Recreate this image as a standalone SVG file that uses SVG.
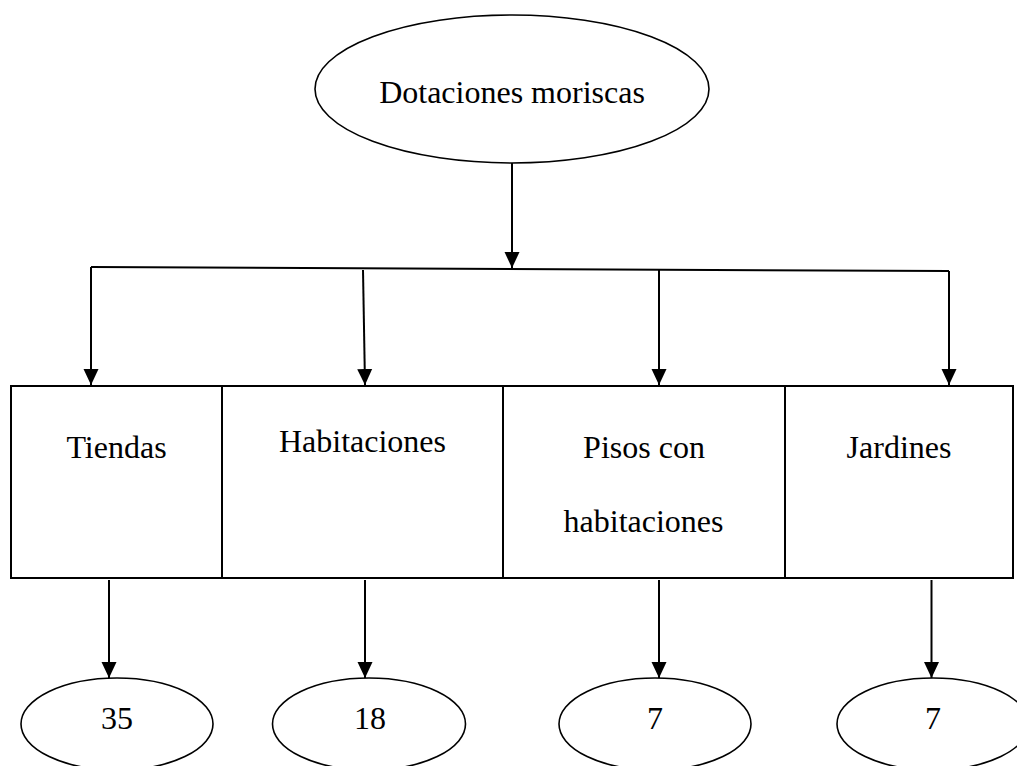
<svg xmlns="http://www.w3.org/2000/svg" width="1017" height="766" viewBox="0 0 1017 766">
<style>
.shape{fill:#fff;stroke:#000;stroke-width:1.6}
.box{fill:#fff;stroke:#000;stroke-width:2}
.conn{fill:none;stroke:#000;stroke-width:2}
text{font-family:"Liberation Serif","Times New Roman",serif;font-size:32px;fill:#000;text-anchor:middle}
</style>
<defs>
<marker id="arr" markerUnits="userSpaceOnUse" markerWidth="16" markerHeight="16" refX="16" refY="7.5" orient="auto" viewBox="0 0 16 15">
<path d="M0,0 L16,7.5 L0,15 z" fill="#000"/>
</marker>
</defs>
<g id="root">
<ellipse class="shape" cx="512" cy="89" rx="197" ry="74"/>
<text x="512" y="103">Dotaciones moriscas</text>
</g>
<g id="tiendas">
<rect class="box" x="11" y="386" width="211" height="192"/>
<text x="116.5" y="458">Tiendas</text>
</g>
<g id="habitaciones">
<rect class="box" x="222" y="386" width="281" height="192"/>
<text x="362.5" y="452">Habitaciones</text>
</g>
<g id="pisos">
<rect class="box" x="503" y="386" width="282" height="192"/>
<text x="644" y="458">Pisos con</text>
<text x="643.5" y="532">habitaciones</text>
</g>
<g id="jardines">
<rect class="box" x="785" y="386" width="228" height="192"/>
<text x="899" y="458">Jardines</text>
</g>
<g id="n35">
<ellipse class="shape" cx="117" cy="724" rx="96" ry="46"/>
<text x="117" y="729">35</text>
</g>
<g id="n18">
<ellipse class="shape" cx="369" cy="724" rx="96.5" ry="46"/>
<text x="370" y="729">18</text>
</g>
<g id="n7a">
<ellipse class="shape" cx="655" cy="724" rx="96" ry="46"/>
<text x="655" y="729">7</text>
</g>
<g id="n7b">
<ellipse class="shape" cx="933" cy="724" rx="96" ry="46"/>
<text x="933" y="729">7</text>
</g>
<g id="connectors">
<path class="conn" d="M512,163 L512,268" marker-end="url(#arr)"/>
<path class="conn" d="M91,267 L949,271"/>
<path class="conn" d="M91,267 L91,385" marker-end="url(#arr)"/>
<path class="conn" d="M363,270 L365,385" marker-end="url(#arr)"/>
<path class="conn" d="M659,270 L659,385" marker-end="url(#arr)"/>
<path class="conn" d="M949,271 L949,385" marker-end="url(#arr)"/>
<path class="conn" d="M109,580 L109,678" marker-end="url(#arr)"/>
<path class="conn" d="M365,580 L365,678" marker-end="url(#arr)"/>
<path class="conn" d="M659,580 L659,678" marker-end="url(#arr)"/>
<path class="conn" d="M931.5,580 L931.5,678" marker-end="url(#arr)"/>
</g>
</svg>
